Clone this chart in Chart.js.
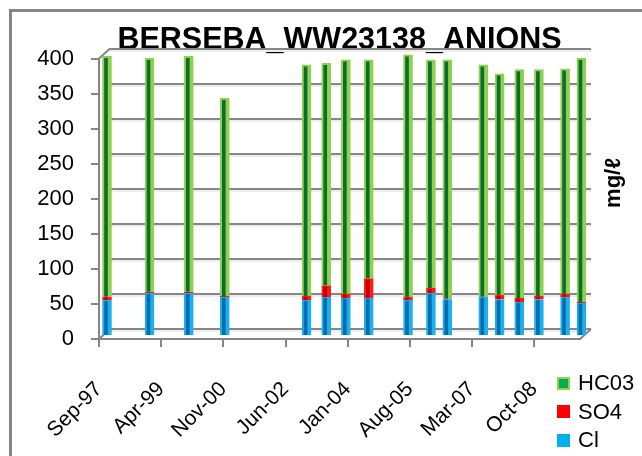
<!DOCTYPE html>
<html>
<head>
<meta charset="utf-8">
<script src="https://cdn.jsdelivr.net/npm/chart.js@4.4.0/dist/chart.umd.min.js"></script>
<style>
  html, body { margin: 0; padding: 0; background: #fff; }
  #wrap { position: relative; width: 642px; height: 456px; overflow: hidden; background: #fff; }
  #frame { position: absolute; left: 9px; top: 9px; width: 700px; height: 520px;
           border-left: 3px solid #868686; border-top: 3px solid #868686; box-sizing: border-box; }
  #chart { position: absolute; left: 0; top: 0; }
  #legend { position: absolute; left: 557px; top: 369px; font-family: "Liberation Sans", Arial, sans-serif;
            font-size: 22px; color: #000; }
  .li { height: 28.5px; display: flex; align-items: center; white-space: nowrap; }
  .sw { width: 13px; height: 13px; box-sizing: border-box; margin-right: 8px; }
</style>
</head>
<body>
<div id="wrap">
  <div id="frame"></div>
  <canvas id="chart" width="642" height="456"></canvas>
  <div id="legend"></div>
</div>
<script>
// ---- data ----
const sampleDates = ["1997-09","1998-10","1999-10","2000-09","2002-10","2003-04","2003-10","2004-05",
                     "2005-05","2005-12","2006-05","2007-04","2007-09","2008-03","2008-09","2009-05","2009-10"];
const clValues   = [51, 61, 61, 55, 51, 55, 54, 54, 51, 61, 52, 55, 52, 48, 52, 55, 47];
const so4Values  = [ 5,  2,  2,  2,  6, 17,  6, 28,  4,  7,  1,  1,  6,  6,  5,  5,  1];
const hco3Values = [343,333,336,282,330,317,334,312,346,326,341,331,316,326,323,321,348];
const xTickLabels = ["Sep-97","Apr-99","Nov-00","Jun-02","Jan-04","Aug-05","Mar-07","Oct-08"];
const xAxisEnd = "2009-12";
const yTickValues = [0, 50, 100, 150, 200, 250, 300, 350, 400];
const seriesNames = ["Cl", "SO4", "HC03"];
const titleText = "BERSEBA_WW23138_ANIONS";
const yTitle = "mg/\u2113";

// ---- helpers ----
const MONTHS = ["Jan","Feb","Mar","Apr","May","Jun","Jul","Aug","Sep","Oct","Nov","Dec"];
const ORIGIN = 1997 * 12 + 8; // Sep-1997
function monthIndex(s) {
  if (s.indexOf("-") === 4) { const [yy, mm] = s.split("-").map(Number); return yy * 12 + (mm - 1) - ORIGIN; }
  const [mon, yy] = s.split("-"); const year = Number(yy) + (Number(yy) > 50 ? 1900 : 2000);
  return year * 12 + MONTHS.indexOf(mon) - ORIGIN;
}
function monthLabel(m) {
  const t = m + ORIGIN; const yr = Math.floor(t / 12); const mo = t % 12;
  return MONTHS[mo] + "-" + String(yr % 100).padStart(2, "0");
}

const FONT = '"Liberation Sans", Arial, sans-serif';
const GRID = '#868686';
const DEPTH_X = 11, DEPTH_Y = 10;   // 3D wall depth
const BAR_DX = 8, BAR_DY = -3;       // bars stand mid-depth

const xs = sampleDates.map(monthIndex);
const pts = arr => arr.map((v, i) => ({ x: xs[i], y: v }));

const styles = {
  Cl:   { bg: '#006DB3', bd: '#1DB1EC', legend: '#00B0F0', legendBd: '#00B0F0' },
  SO4:  { bg: '#C00000', bd: '#FF1A1A', legend: '#FF0000', legendBd: '#FF0000' },
  HC03: { bg: '#0B6E2E', bd: '#8FD14F', legend: '#00B050', legendBd: '#92D050' }
};
const seriesValues = [clValues, so4Values, hco3Values];

const datasets = seriesNames.map((name, i) => ({
  label: name,
  data: pts(seriesValues[i]),
  backgroundColor: styles[name].bg,
  borderColor: styles[name].bd,
  borderWidth: { left: 2, right: 4, top: name === 'HC03' ? 2 : 1, bottom: 0 },
  borderSkipped: false,
  barThickness: 9,
  clip: false
}));

function line(ctx, x1, y1, x2, y2) { ctx.beginPath(); ctx.moveTo(x1, y1); ctx.lineTo(x2, y2); ctx.stroke(); }

const wallPlugin = {
  id: 'wall3d',
  beforeDatasetsDraw(chart) {
    const { ctx, chartArea: a, scales: { y } } = chart;
    ctx.save();
    yTickValues.forEach(v => {
      const py = Math.round(y.getPixelForValue(v)) - DEPTH_Y;
      ctx.strokeStyle = '#dcdcdc'; ctx.lineWidth = 1;
      line(ctx, a.left + DEPTH_X, py + 2, a.right + DEPTH_X, py + 2);
      ctx.strokeStyle = GRID; ctx.lineWidth = 2;
      line(ctx, a.left + DEPTH_X, py, a.right + DEPTH_X, py);
    });
    const yTop = y.getPixelForValue(yTickValues[yTickValues.length - 1]);
    const y0 = y.getPixelForValue(0);
    ctx.strokeStyle = GRID; ctx.lineWidth = 2;
    line(ctx, a.left, yTop, a.left + DEPTH_X, yTop - DEPTH_Y);
    line(ctx, a.left, y0, a.left + DEPTH_X, y0 - DEPTH_Y);
    line(ctx, a.right, y0, a.right + DEPTH_X, y0 - DEPTH_Y);
    ctx.restore();
    ctx.save();
    ctx.translate(BAR_DX, BAR_DY);
  },
  afterDatasetsDraw(chart) { chart.ctx.restore(); },
  afterDraw(chart) {
    const ctx = chart.ctx;
    ctx.save();
    ctx.translate(614, 183);
    ctx.rotate(-Math.PI / 2);
    ctx.font = 'bold 22px ' + FONT;
    ctx.fillStyle = '#000';
    ctx.textAlign = 'center';
    ctx.textBaseline = 'middle';
    ctx.fillText(yTitle, 0, 0);
    ctx.restore();
  }
};

const chart = new Chart(document.getElementById('chart'), {
  type: 'bar',
  data: { datasets },
  plugins: [wallPlugin],
  options: {
    responsive: false,
    animation: false,
    events: [],
    layout: { padding: { left: 10, right: 62, top: 0, bottom: 0 } },
    plugins: {
      legend: { display: false },
      tooltip: { enabled: false },
      title: {
        display: true, text: titleText, fullSize: false, color: '#000',
        font: { family: FONT, size: 30.5, weight: 'bold' },
        padding: { top: 22, bottom: 0 }
      }
    },
    scales: {
      x: {
        type: 'linear', stacked: true, offset: false,
        min: 0, max: monthIndex(xAxisEnd),
        afterBuildTicks: s => { s.ticks = xTickLabels.map(l => ({ value: monthIndex(l) })); },
        afterFit: s => { s.height = 117; },
        ticks: {
          callback: v => monthLabel(v), color: '#000', autoSkip: false,
          maxRotation: 45, minRotation: 45, padding: 30,
          font: { family: FONT, size: 21 }
        },
        grid: { offset: false, drawOnChartArea: false, drawTicks: true, tickLength: 8, color: GRID, lineWidth: 2 },
        border: { display: true, color: GRID, width: 2 }
      },
      y: {
        stacked: true, min: 0, max: 400,
        afterBuildTicks: s => { s.ticks = yTickValues.map(v => ({ value: v })); },
        afterFit: s => { s.width = 89; },
        ticks: { color: '#000', padding: 17, font: { family: FONT, size: 22 } },
        grid: { drawOnChartArea: false, drawTicks: true, tickLength: 8, color: GRID, lineWidth: 2 },
        border: { display: true, color: GRID, width: 2 }
      }
    }
  }
});

// HTML legend (top to bottom: last series first)
const legendEl = document.getElementById('legend');
seriesNames.slice().reverse().forEach(name => {
  const row = document.createElement('div'); row.className = 'li';
  const sw = document.createElement('span'); sw.className = 'sw';
  sw.style.background = styles[name].legend;
  sw.style.border = '2px solid ' + styles[name].legendBd;
  const tx = document.createElement('span'); tx.textContent = name;
  row.appendChild(sw); row.appendChild(tx); legendEl.appendChild(row);
});
</script>
</body>
</html>
